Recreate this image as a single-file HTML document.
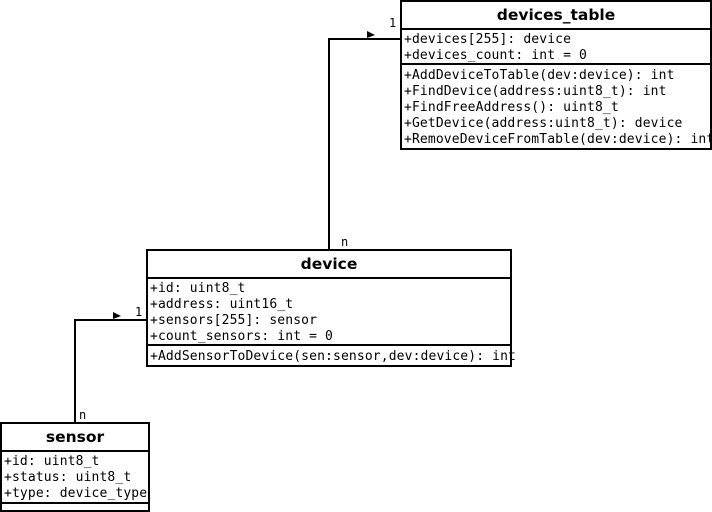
<!DOCTYPE html>
<html><head><meta charset="utf-8"><style>
html,body{margin:0;padding:0;background:#fff;}
svg{display:block;}
.m{font-family:"DejaVu Sans Mono","Liberation Mono",monospace;font-size:13px;letter-spacing:0.13px;fill:#000;}
.t{font-family:"DejaVu Sans","Liberation Sans",sans-serif;font-size:15.5px;font-weight:bold;fill:#000;}
.s{font-family:"DejaVu Sans Mono","Liberation Mono",monospace;font-size:12px;fill:#000;}
</style></head><body>
<svg width="712" height="512" viewBox="0 0 712 512" xmlns="http://www.w3.org/2000/svg">
<g fill="none" stroke="#000" stroke-width="2">
<rect x="401" y="1" width="310" height="148"/>
<line x1="401" y1="29" x2="711" y2="29"/>
<line x1="401" y1="64" x2="711" y2="64"/>
<rect x="147" y="250" width="364" height="116"/>
<line x1="147" y1="278" x2="511" y2="278"/>
<line x1="147" y1="345" x2="511" y2="345"/>
<rect x="1" y="423" width="148" height="88"/>
<line x1="1" y1="451" x2="149" y2="451"/>
<line x1="1" y1="503" x2="149" y2="503"/>
<polyline points="329,250 329,39 401,39"/>
<polyline points="75,423 75,320 147,320"/>
</g>
<polygon points="367,31 375,35 367,38" fill="#000"/>
<polygon points="113,312 121,316 113,319" fill="#000"/>
<text class="s" x="389" y="27">1</text>
<text class="s" x="341" y="246">n</text>
<text class="s" x="135" y="316">1</text>
<text class="s" x="79" y="419">n</text>
<text class="t" x="556" y="20" text-anchor="middle">devices_table</text>
<text class="m" x="404" y="43">+devices[255]: device</text>
<text class="m" x="404" y="59">+devices_count: int = 0</text>
<text class="m" x="404" y="79">+AddDeviceToTable(dev:device): int</text>
<text class="m" x="404" y="95">+FindDevice(address:uint8_t): int</text>
<text class="m" x="404" y="111">+FindFreeAddress(): uint8_t</text>
<text class="m" x="404" y="127">+GetDevice(address:uint8_t): device</text>
<text class="m" x="404" y="143">+RemoveDeviceFromTable(dev:device): int</text>
<text class="t" x="329" y="269" text-anchor="middle">device</text>
<text class="m" x="150" y="292">+id: uint8_t</text>
<text class="m" x="150" y="308">+address: uint16_t</text>
<text class="m" x="150" y="324">+sensors[255]: sensor</text>
<text class="m" x="150" y="340">+count_sensors: int = 0</text>
<text class="m" x="150" y="360">+AddSensorToDevice(sen:sensor,dev:device): int</text>
<text class="t" x="75" y="442" text-anchor="middle">sensor</text>
<text class="m" x="4" y="465">+id: uint8_t</text>
<text class="m" x="4" y="481">+status: uint8_t</text>
<text class="m" x="4" y="497">+type: device_type</text>
</svg>
</body></html>
